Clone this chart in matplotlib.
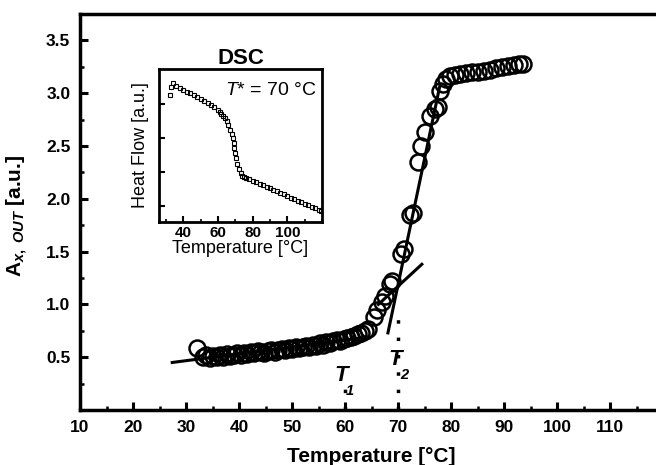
import numpy as np
import matplotlib
matplotlib.use("Agg")
import matplotlib.pyplot as plt
from matplotlib.ticker import MultipleLocator, NullFormatter

plt.rcParams['font.family'] = ['Liberation Sans', 'DejaVu Sans']
plt.rcParams['mathtext.fontset'] = 'custom'
plt.rcParams['mathtext.rm'] = 'Liberation Sans:bold'
plt.rcParams['mathtext.bf'] = 'Liberation Sans:bold'
plt.rcParams['mathtext.it'] = 'Liberation Sans:bold:italic'
plt.rcParams['mathtext.sf'] = 'Liberation Sans:italic'

# main curve: A_x,OUT vs temperature
temp = [32.0, 33.2, 33.8, 34.5, 35.1, 35.8, 36.4, 37.0, 37.7, 38.3, 39.0, 39.6,
        40.3, 40.9, 41.6, 42.2, 42.9, 43.5, 44.2, 44.8, 45.5, 46.1, 46.8, 47.4,
        48.1, 48.7, 49.4, 50.0, 50.7, 51.3, 52.0, 52.6, 53.3, 53.9, 54.6, 55.2,
        55.9, 56.5, 57.2, 57.8, 58.5, 59.1, 59.8, 60.4, 61.1, 61.7, 62.4, 63.0,
        63.7, 64.3, 65.5, 66.1, 66.9, 67.6, 68.4, 68.9, 70.5, 71.1, 72.2, 72.8,
        73.8, 74.3, 75.1, 76.0, 77.0, 77.5, 77.9, 78.5, 79.1, 79.8, 80.8, 81.7,
        82.8, 84.0, 85.1, 86.2, 87.4, 88.5, 89.6, 90.8, 91.9, 92.8, 93.6]
a_out = [0.59, 0.50, 0.52, 0.49, 0.51, 0.50, 0.52, 0.50, 0.53, 0.51, 0.52, 0.54,
         0.52, 0.54, 0.53, 0.55, 0.54, 0.56, 0.55, 0.54, 0.56, 0.57, 0.55, 0.57,
         0.58, 0.57, 0.59, 0.58, 0.60, 0.59, 0.60, 0.61, 0.60, 0.62, 0.61, 0.63,
         0.62, 0.64, 0.63, 0.65, 0.66, 0.65, 0.67, 0.68, 0.69, 0.70, 0.72, 0.73,
         0.75, 0.77, 0.88, 0.95, 1.02, 1.08, 1.19, 1.22, 1.48, 1.52, 1.85, 1.87,
         2.35, 2.50, 2.63, 2.78, 2.85, 2.87, 3.02, 3.09, 3.13, 3.16, 3.17, 3.18,
         3.19, 3.20, 3.20, 3.21, 3.22, 3.24, 3.25, 3.26, 3.27, 3.28, 3.28]

# tangent lines
base_x = [27.4, 64.2]
base_y = [0.45, 0.69]
mid_x = [66.3, 74.5]
mid_y = [1.00, 1.38]
steep_x = [68.1, 77.9]
steep_y = [0.73, 3.07]

# T1, T2 markers
t1 = 60
t2 = 70
t2_top = 0.87
t1_top = 0.22

# inset: DSC heat flow
dsc_t = [32.3, 33.0, 34.0, 36, 38, 40, 42, 44, 46, 48, 50, 52, 54, 56, 58, 60,
         61, 62, 63, 64, 65, 66, 67, 68, 68.5, 69, 69.5, 70, 70.5, 71, 72, 73,
         74, 75, 76, 78, 80, 82, 84, 86, 88, 90, 92, 94, 96, 98, 100, 102, 104,
         106, 108, 110, 112, 114, 116, 118, 119.5]
heat_flow = [4.26, 4.50, 4.62, 4.52, 4.46, 4.41, 4.36, 4.31, 4.26, 4.21, 4.15,
             4.09, 4.03, 3.97, 3.90, 3.82, 3.77, 3.72, 3.66, 3.60, 3.50, 3.38,
             3.25, 3.12, 3.00, 2.85, 2.70, 2.55, 2.40, 2.25, 2.08, 1.96, 1.88,
             1.85, 1.83, 1.79, 1.74, 1.70, 1.65, 1.61, 1.56, 1.52, 1.47, 1.43,
             1.38, 1.34, 1.29, 1.25, 1.20, 1.16, 1.11, 1.07, 1.02, 0.98, 0.93,
             0.89, 0.85]

fig = plt.figure(figsize=(6.56, 4.65), dpi=100)
ax = fig.add_axes([80/656, 55/465, 583/656, 396/465])

ax.plot(temp, a_out, 'o', mfc='none', mec='black', ms=11.5, mew=1.8, zorder=3)
ax.plot(base_x, base_y, color='black', lw=2.2, zorder=4)
ax.plot(mid_x, mid_y, color='black', lw=2.2, zorder=4)
ax.plot(steep_x, steep_y, color='black', lw=2.2, zorder=4)
ax.plot([t1, t1], [0.0, t1_top], color='black', lw=2.5, ls=(0, (1, 4)))
ax.plot([t2, t2], [0.0, t2_top], color='black', lw=2.5, ls=(0, (1, 4)))

ax.text(59.2, 0.33, 'T', fontsize=16, fontweight='bold', fontstyle='italic',
        ha='center', va='center')
ax.text(61.0, 0.18, '1', fontsize=10.5, fontweight='bold', fontstyle='italic',
        ha='center', va='center')
ax.text(69.4, 0.48, 'T', fontsize=16, fontweight='bold', fontstyle='italic',
        ha='center', va='center')
ax.text(71.1, 0.33, '2', fontsize=10.5, fontweight='bold', fontstyle='italic',
        ha='center', va='center')

ax.set_xlim(10, 120)
ax.set_ylim(0, 3.75)
ax.set_xticks([10, 20, 30, 40, 50, 60, 70, 80, 90, 100, 110])
ax.xaxis.set_minor_locator(MultipleLocator(5))
ax.set_yticks([0.5, 1.0, 1.5, 2.0, 2.5, 3.0, 3.5])
ax.yaxis.set_minor_locator(MultipleLocator(0.25))
ax.tick_params(which='major', direction='in', length=6, width=2.2,
               labelsize=12.5, pad=7)
ax.tick_params(which='minor', direction='in', length=3, width=1.8)
for lab in ax.get_xticklabels() + ax.get_yticklabels():
    lab.set_fontweight('bold')
for sp in ax.spines.values():
    sp.set_linewidth(2.5)

ax.set_xlabel('Temperature [°C]', fontsize=15, fontweight='bold')
ax.xaxis.set_label_coords(0.5, -0.093)
ax.set_ylabel(r'$\mathbf{A}_{x,\ OUT}$ [a.u.]', fontsize=15, fontweight='bold')
ax.yaxis.set_label_coords(-0.086, 0.49)

# inset
ins = fig.add_axes([159/656, 243/465, 163/656, 153/465])
ins.plot(dsc_t, heat_flow, 's', mfc='none', mec='black', ms=3, mew=0.8)
ins.set_xlim(26, 120)
ins.set_ylim(0.53, 5.03)
ins.set_xticks([40, 60, 80, 100])
ins.xaxis.set_minor_locator(MultipleLocator(10))
ins.set_yticks([1, 2, 3, 4])
ins.yaxis.set_major_formatter(NullFormatter())
ins.tick_params(which='major', direction='in', length=4, width=1.5,
                labelsize=11, pad=3)
ins.tick_params(which='minor', direction='in', length=2, width=1.2)
for lab in ins.get_xticklabels():
    lab.set_fontweight('bold')
for sp in ins.spines.values():
    sp.set_linewidth(2)
ins.set_xlabel('Temperature [°C]', fontsize=13, labelpad=0)
ins.set_ylabel('Heat Flow [a.u.]', fontsize=13, labelpad=4)
ins.set_title('DSC', fontsize=16, fontweight='bold', pad=2)
ins.text(0.97, 0.86, r'$\mathsf{T}$* = 70 °C', transform=ins.transAxes,
         fontsize=14, ha='right', va='center')

fig.savefig('out.png', dpi=100)
